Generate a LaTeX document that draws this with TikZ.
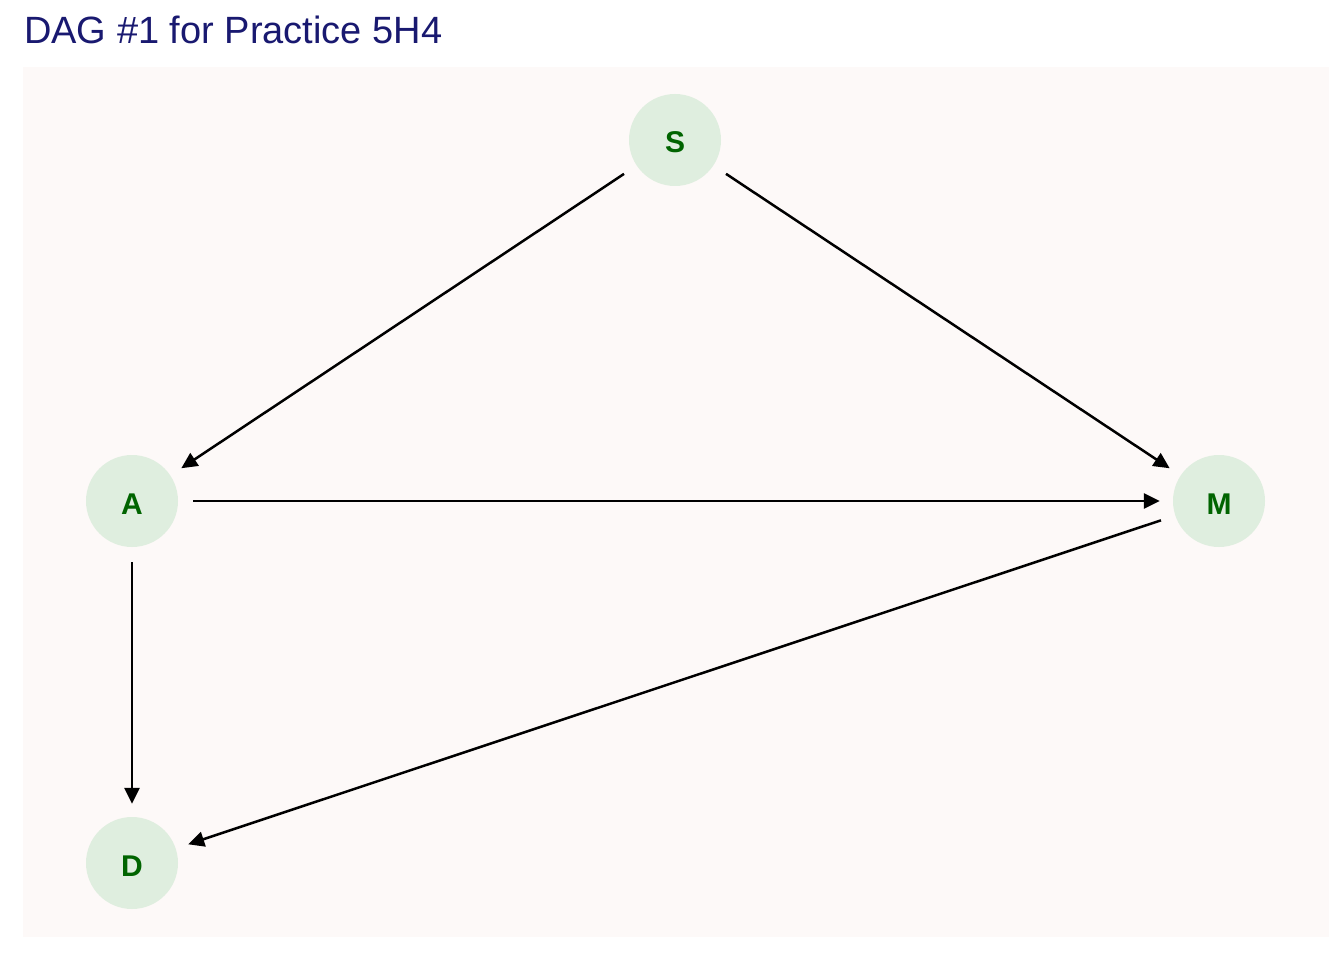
\documentclass[tikz,border=0pt]{standalone}
\usepackage{fontspec}
\setmainfont{Liberation Sans}
\usetikzlibrary{arrows.meta}
\definecolor{panelbg}{RGB}{253,249,248}
\definecolor{nodefill}{RGB}{223,238,223}
\definecolor{nodetext}{RGB}{0,100,0}
\definecolor{titlecol}{RGB}{25,25,112}
\newcommand{\dlab}[1]{\raisebox{-13pt}[0pt][0pt]{#1}}
\tikzset{
  dagnode/.style={circle, fill=nodefill, minimum size=92pt, inner sep=0pt, text=nodetext, font=\fontsize{30}{30}\selectfont\bfseries},
  dagedge/.style={draw=black, line width=2.5pt, -{Triangle[length=16pt,width=15pt]}, shorten <=15pt, shorten >=13pt}
}
\begin{document}
\begin{tikzpicture}[x=1pt,y=-1pt]
\useasboundingbox (0,0) rectangle (1344,960);
\fill[white] (0,0) rectangle (1344,960);
\fill[panelbg] (23,67) rectangle (1329,937);
\node[anchor=base west, inner sep=0pt, text=titlecol, font=\fontsize{38}{40}\selectfont] (title) at (24,44) {DAG \#1 for Practice 5H4};
\node[dagnode] (S) at (675,140) {\dlab{S}};
\node[dagnode] (A) at (132,501) {\dlab{A}};
\node[dagnode] (M) at (1219,501) {\dlab{M}};
\node[dagnode] (D) at (132,863) {\dlab{D}};
\draw[dagedge] (S) -- (A);
\draw[dagedge] (S) -- (M);
\draw[dagedge] (A) -- (M);
\draw[dagedge] (A) -- (D);
\draw[dagedge] (M) -- (D);
\end{tikzpicture}
\end{document}
